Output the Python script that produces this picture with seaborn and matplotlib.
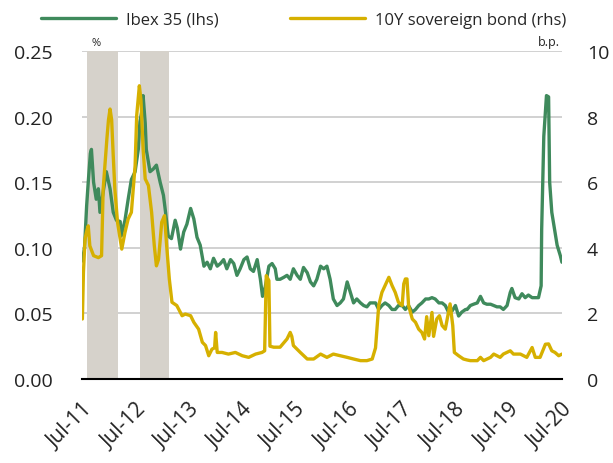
import numpy as np
import pandas as pd
import matplotlib
matplotlib.use("Agg")
import matplotlib.pyplot as plt
from matplotlib.lines import Line2D
import seaborn as sns

# ---- data (x as decimal years) ----
ibex_t = [2011.50, 2011.54, 2011.58, 2011.61, 2011.65, 2011.67, 2011.71, 2011.76, 2011.80, 2011.83,
          2011.88, 2011.95, 2012.02, 2012.08, 2012.14, 2012.21, 2012.23, 2012.30, 2012.36, 2012.42,
          2012.49, 2012.55, 2012.58, 2012.62, 2012.64, 2012.68, 2012.70, 2012.77, 2012.83, 2012.89,
          2012.96, 2013.02, 2013.06, 2013.11, 2013.17, 2013.24, 2013.28, 2013.34, 2013.40, 2013.46,
          2013.53, 2013.59, 2013.65, 2013.71, 2013.78, 2013.84, 2013.90, 2013.96, 2014.03, 2014.09,
          2014.15, 2014.21, 2014.28, 2014.34, 2014.40, 2014.46, 2014.53, 2014.59, 2014.65, 2014.71,
          2014.78, 2014.84, 2014.88, 2014.93, 2015.00, 2015.06, 2015.12, 2015.15, 2015.21, 2015.28,
          2015.34, 2015.40, 2015.46, 2015.53, 2015.59, 2015.65, 2015.72, 2015.78, 2015.84, 2015.90,
          2015.97, 2016.03, 2016.09, 2016.15, 2016.21, 2016.28, 2016.34, 2016.40, 2016.47, 2016.53,
          2016.59, 2016.65, 2016.72, 2016.78, 2016.84, 2016.90, 2016.94, 2017.00, 2017.06, 2017.12,
          2017.18, 2017.25, 2017.31, 2017.37, 2017.43, 2017.50, 2017.56, 2017.62, 2017.69, 2017.75,
          2017.81, 2017.87, 2017.94, 2018.00, 2018.06, 2018.12, 2018.19, 2018.25, 2018.31, 2018.37,
          2018.44, 2018.50, 2018.56, 2018.62, 2018.69, 2018.72, 2018.78, 2018.84, 2018.91, 2018.97,
          2019.03, 2019.09, 2019.16, 2019.22, 2019.28, 2019.34, 2019.40, 2019.47, 2019.53, 2019.56,
          2019.62, 2019.69, 2019.75, 2019.81, 2019.87, 2019.94, 2020.00, 2020.06, 2020.11, 2020.12,
          2020.16, 2020.21, 2020.25, 2020.27, 2020.31, 2020.37, 2020.41, 2020.47, 2020.50]
ibex_v = [0.090, 0.100, 0.132, 0.150, 0.172, 0.175, 0.150, 0.137, 0.145, 0.127,
          0.140, 0.158, 0.145, 0.127, 0.121, 0.120, 0.109, 0.121, 0.137, 0.152,
          0.158, 0.175, 0.196, 0.205, 0.216, 0.195, 0.175, 0.158, 0.160, 0.163,
          0.150, 0.140, 0.127, 0.109, 0.107, 0.121, 0.115, 0.099, 0.112, 0.118,
          0.130, 0.122, 0.108, 0.102, 0.086, 0.089, 0.084, 0.092, 0.086, 0.088,
          0.091, 0.084, 0.091, 0.088, 0.079, 0.084, 0.091, 0.093, 0.084, 0.082,
          0.091, 0.076, 0.063, 0.070, 0.086, 0.088, 0.084, 0.076, 0.076, 0.0775,
          0.079, 0.076, 0.084, 0.079, 0.076, 0.085, 0.081, 0.074, 0.071, 0.076,
          0.086, 0.084, 0.086, 0.076, 0.061, 0.056, 0.058, 0.061, 0.074, 0.066,
          0.058, 0.061, 0.058, 0.056, 0.055, 0.058, 0.058, 0.058, 0.053, 0.056,
          0.058, 0.056, 0.053, 0.053, 0.056, 0.056, 0.053, 0.056, 0.051, 0.053,
          0.056, 0.058, 0.061, 0.061, 0.062, 0.061, 0.058, 0.058, 0.056, 0.051,
          0.052, 0.056, 0.048, 0.051, 0.053, 0.053, 0.056, 0.057, 0.058, 0.063,
          0.058, 0.057, 0.057, 0.056, 0.055, 0.055, 0.053, 0.056, 0.066, 0.069,
          0.062, 0.061, 0.065, 0.062, 0.064, 0.062, 0.062, 0.062, 0.071, 0.114,
          0.185, 0.216, 0.215, 0.150, 0.127, 0.112, 0.102, 0.094, 0.089]

bond_t = [2011.50, 2011.52, 2011.55, 2011.58, 2011.61, 2011.64, 2011.71, 2011.80, 2011.86, 2011.89,
          2011.96, 2011.99, 2012.02, 2012.05, 2012.08, 2012.11, 2012.16, 2012.21, 2012.24, 2012.30,
          2012.36, 2012.42, 2012.49, 2012.52, 2012.57, 2012.60, 2012.64, 2012.68, 2012.74, 2012.80,
          2012.85, 2012.89, 2012.93, 2012.99, 2013.04, 2013.08, 2013.13, 2013.18, 2013.27, 2013.37,
          2013.43, 2013.53, 2013.59, 2013.68, 2013.75, 2013.81, 2013.87, 2013.93, 2013.98, 2014.00,
          2014.03, 2014.12, 2014.24, 2014.37, 2014.50, 2014.62, 2014.75, 2014.87, 2014.92, 2014.95,
          2015.00, 2015.02, 2015.09, 2015.21, 2015.34, 2015.40, 2015.43, 2015.46, 2015.59, 2015.72,
          2015.84, 2015.97, 2016.09, 2016.21, 2016.34, 2016.47, 2016.59, 2016.72, 2016.84, 2016.94,
          2017.00, 2017.06, 2017.12, 2017.18, 2017.25, 2017.31, 2017.37, 2017.43, 2017.50, 2017.53,
          2017.56, 2017.59, 2017.62, 2017.69, 2017.75, 2017.81, 2017.87, 2017.92, 2017.96, 2018.00,
          2018.06, 2018.09, 2018.15, 2018.20, 2018.25, 2018.31, 2018.37, 2018.40, 2018.45, 2018.48,
          2018.56, 2018.65, 2018.72, 2018.78, 2018.91, 2018.97, 2019.03, 2019.16, 2019.22, 2019.28,
          2019.34, 2019.40, 2019.53, 2019.59, 2019.72, 2019.84, 2019.94, 2020.00, 2020.09, 2020.19,
          2020.25, 2020.31, 2020.37, 2020.44, 2020.50]
bond_v = [1.83, 3.26, 4.27, 4.50, 4.67, 4.06, 3.76, 3.70, 3.76, 5.79,
          7.32, 7.90, 8.23, 7.90, 6.80, 5.79, 4.78, 4.27, 3.96, 4.47,
          4.88, 5.08, 6.50, 8.03, 8.94, 8.50, 7.01, 6.10, 5.90, 5.08,
          4.07, 3.45, 3.65, 4.78, 4.98, 4.07, 3.05, 2.34, 2.24, 1.93,
          1.98, 1.93, 1.73, 1.52, 1.12, 1.02, 0.71, 0.91, 0.95, 1.42,
          0.81, 0.81, 0.76, 0.81, 0.71, 0.66, 0.76, 0.81, 0.86, 3.15,
          3.00, 1.00, 0.97, 0.97, 1.22, 1.42, 1.30, 1.02, 0.81, 0.61,
          0.61, 0.76, 0.66, 0.76, 0.71, 0.66, 0.61, 0.56, 0.56, 0.61,
          0.95, 2.24, 2.64, 2.85, 3.10, 2.85, 2.64, 2.34, 2.24, 2.90,
          3.05, 3.05, 2.24, 1.83, 1.73, 1.52, 1.42, 1.22, 1.90, 1.32,
          2.03, 1.30, 1.83, 1.93, 1.63, 1.52, 2.03, 2.29, 1.63, 0.81,
          0.71, 0.61, 0.58, 0.56, 0.56, 0.66, 0.56, 0.66, 0.76, 0.71,
          0.66, 0.76, 0.86, 0.76, 0.76, 0.66, 0.96, 0.66, 0.66, 1.06,
          1.07, 0.86, 0.81, 0.71, 0.76]

shade_start = ["2011-08-01", "2012-08-01"]
shade_end = ["2012-03-01", "2013-02-15"]

tick_labels = ["Jul-11", "Jul-12", "Jul-13", "Jul-14", "Jul-15",
               "Jul-16", "Jul-17", "Jul-18", "Jul-19", "Jul-20"]
left_ticks = [0.00, 0.05, 0.10, 0.15, 0.20, 0.25]
right_ticks = [0, 2, 4, 6, 8, 10]
series_names = ["Ibex 35 (lhs)", "10Y sovereign bond (rhs)"]

GREEN = "#3f8a5c"
YELLOW = "#d6b000"
SHADE = "#d6d2cb"


def to_dt(years):
    out = []
    for y in years:
        yi = int(np.floor(y))
        start = pd.Timestamp(year=yi, month=1, day=1)
        out.append(start + pd.Timedelta(days=(y - yi) * 365.25))
    return pd.to_datetime(out)


ibex_df = pd.DataFrame({"date": to_dt(ibex_t), "value": ibex_v})
bond_df = pd.DataFrame({"date": to_dt(bond_t), "value": bond_v})

sns.set_theme(style="white")
plt.rcParams["font.family"] = ["Open Sans", "DejaVu Sans"]

fig = plt.figure(figsize=(6.13, 4.64), dpi=100)
ax = fig.add_axes([0.134, 0.181, 0.783, 0.707])
ax2 = ax.twinx()

ax.set_ylim(0, 0.25)
ax2.set_ylim(0, 10)
ax.set_yticks(left_ticks)
ax.set_yticklabels([f"{v:.2f}" for v in left_ticks])
ax2.set_yticks(right_ticks)
ax2.set_yticklabels([str(v) for v in right_ticks])
for v in left_ticks[1:]:
    ax.axhline(v, color="#c9c9c9", lw=1.2, zorder=0.5)
for s, e in zip(shade_start, shade_end):
    ax.axvspan(pd.Timestamp(s), pd.Timestamp(e), color=SHADE, lw=0, zorder=1)

sns.lineplot(data=ibex_df, x="date", y="value", ax=ax, color=GREEN, lw=2.4, legend=False, zorder=2)
sns.lineplot(data=bond_df, x="date", y="value", ax=ax2, color=YELLOW, lw=2.4, legend=False, zorder=2)

ticks = pd.to_datetime([f"20{l[-2:]}-07-01" for l in tick_labels])
ax.set_xticks(ticks)
ax.set_xticklabels(tick_labels, rotation=45, ha="right", rotation_mode="anchor")
ax.set_xlim(pd.Timestamp("2011-07-01"), pd.Timestamp("2020-07-03"))

for a in (ax, ax2):
    a.set_xlabel("")
    a.set_ylabel("")
    for sp in ("top", "left", "right", "bottom"):
        a.spines[sp].set_visible(False)
ax2.spines["bottom"].set_visible(True)
ax2.spines["bottom"].set_color("black")
ax2.spines["bottom"].set_linewidth(1.5)

ax.tick_params(axis="y", length=0, pad=21, labelsize=14, colors="#222222")
ax.tick_params(axis="x", length=0, pad=14, labelsize=15, colors="#222222")
ax2.tick_params(axis="y", length=0, pad=18, labelsize=14, colors="#222222")

ax.text(0.02, 1.01, "%", transform=ax.transAxes, fontsize=8, ha="left", va="bottom")
ax2.text(0.995, 1.01, "b.p.", transform=ax2.transAxes, fontsize=9, ha="right", va="bottom")

handles = [Line2D([], [], color=GREEN, lw=2.4), Line2D([], [], color=YELLOW, lw=2.4)]
fig.legend(handles, series_names, loc="upper center",
           bbox_to_anchor=(0.495, 1.005), ncol=2, frameon=False, fontsize=12,
           handlelength=4.5, columnspacing=4.3, handletextpad=0.6)

fig.savefig("out.png", dpi=100)
